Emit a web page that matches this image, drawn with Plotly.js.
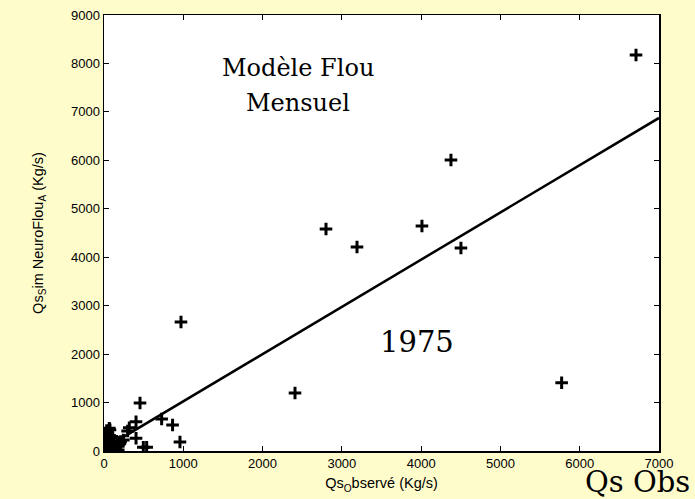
<!DOCTYPE html>
<html>
<head>
<meta charset="utf-8">
<script src="https://cdn.plot.ly/plotly-3.0.1.min.js"></script>
<style>body{margin:0;padding:0;background:#fffccc;} #chart{width:695px;height:499px;}</style>
</head>
<body>
<div id="chart"></div>
<script>
// Observed vs simulated (Kg/s)
const qsObserve = [6710, 4376, 2800, 3191, 4010, 4502, 971, 2409, 5772, 454, 727, 865, 958, 496, 538, 404, 319, 298, 404, 244, 209, 180, 67,
  10, 20, 30, 15, 40, 50, 60, 25, 80, 100, 5, 35, 70, 90, 120, 150, 200, 130, 45, 12, 0, 55, 110, 160, 180, 75];
const qsSimule = [8175, 6007, 4583, 4211, 4645, 4190, 2663, 1197, 1410, 990, 660, 537, 185, 76, 76, 605, 481, 413, 262, 227, 193, 20, 468,
  50, 120, 200, 300, 380, 250, 150, 30, 80, 60, 180, 420, 320, 200, 120, 50, 150, 20, 100, 10, 350, 10, 280, 200, 100, 440];
// Regression line
const lineX = [0, 7000];
const lineY = [50, 6875];

const xTicks = [0, 1000, 2000, 3000, 4000, 5000, 6000, 7000];
const yTicks = [0, 1000, 2000, 3000, 4000, 5000, 6000, 7000, 8000, 9000];

const traces = [
  {x: qsObserve, y: qsSimule, mode: 'markers', type: 'scatter',
   marker: {symbol: 'cross-thin', size: 9, color: '#000', line: {color: '#000', width: 3}}},
  {x: lineX, y: lineY, mode: 'lines', type: 'scatter', line: {color: '#000', width: 2.5}}
];

const axisCommon = {
  showgrid: false, zeroline: false, showline: true, linecolor: '#000', linewidth: 1.5,
  mirror: 'ticks', ticks: 'inside', ticklen: 5, tickcolor: '#000',
  tickfont: {family: 'Liberation Sans, Arial, sans-serif', size: 13, color: '#000'}
};

const layout = {
  width: 695, height: 499,
  paper_bgcolor: '#fffccc', plot_bgcolor: '#ffffff',
  margin: {l: 104, r: 36, t: 15, b: 48},
  showlegend: false,
  xaxis: Object.assign({}, axisCommon, {
    range: [0, 7000], tickvals: xTicks, ticktext: xTicks.map(String),
    title: {text: 'Qs<sub>O</sub>bservé (Kg/s)', standoff: 8,
      font: {family: 'Liberation Sans, Arial, sans-serif', size: 14.5, color: '#000'}}
  }),
  yaxis: Object.assign({}, axisCommon, {
    range: [0, 9000], tickvals: yTicks, ticktext: yTicks.map(String),
    title: {text: 'Qs<sub>S</sub>im NeuroFlou<sub>A</sub> (Kg/s)', standoff: 24,
      font: {family: 'Liberation Sans, Arial, sans-serif', size: 14.5, color: '#000'}}
  }),
  annotations: [
    {text: 'Modèle Flou', xref: 'paper', yref: 'paper', x: 0.349, y: 0.878,
     xanchor: 'center', yanchor: 'middle', showarrow: false,
     font: {family: 'DejaVu Serif, serif', size: 24, color: '#000'}},
    {text: 'Mensuel', xref: 'paper', yref: 'paper', x: 0.349, y: 0.798,
     xanchor: 'center', yanchor: 'middle', showarrow: false,
     font: {family: 'DejaVu Serif, serif', size: 24, color: '#000'}},
    {text: '1975', xref: 'paper', yref: 'paper', x: 0.564, y: 0.249,
     xanchor: 'center', yanchor: 'middle', showarrow: false,
     font: {family: 'DejaVu Serif, serif', size: 29, color: '#000'}},
    {text: 'Qs Obs', xref: 'paper', yref: 'paper', x: 1.059, y: -0.072,
     xanchor: 'right', yanchor: 'middle', showarrow: false,
     font: {family: 'DejaVu Serif, serif', size: 29, color: '#000'}}
  ]
};

Plotly.newPlot('chart', traces, layout, {displayModeBar: false, staticPlot: true});
</script>
</body>
</html>
